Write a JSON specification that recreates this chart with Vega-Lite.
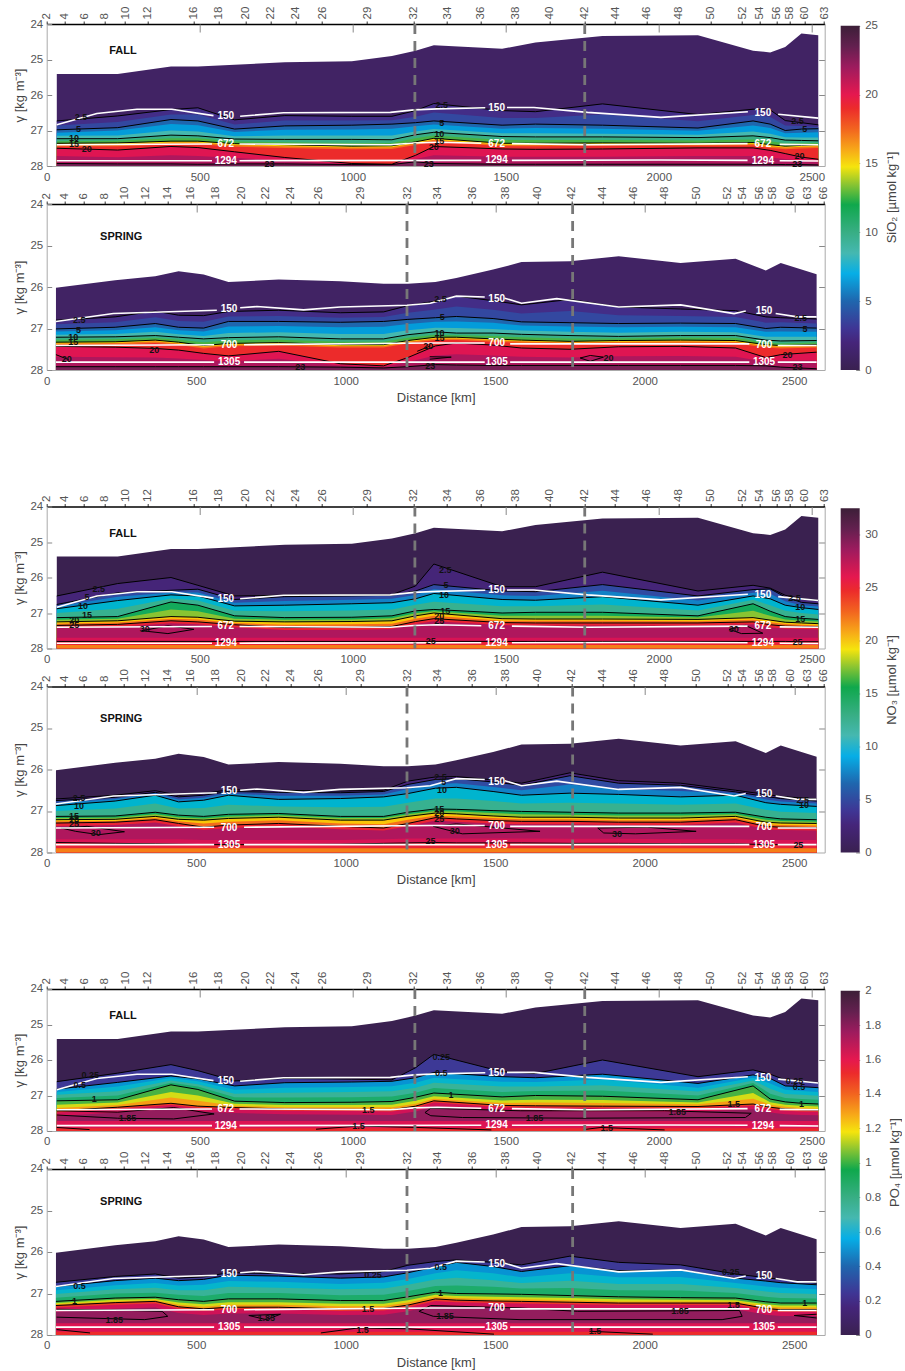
{"$schema":"https://vega.github.io/schema/vega-lite/v6.json","padding":{"left":13.7,"top":6,"right":0,"bottom":0},"background":"white","spacing":83.5,"resolve":{"scale":{"color":"independent"}},
"config":{"view":{"stroke":null},"axis":{"grid":false,"labelFont":"Liberation Sans","titleFont":"Liberation Sans","labelFontSize":11.5,"titleFontSize":13,"titleFontWeight":"normal","labelColor":"#555","titleColor":"#444","tickColor":"#888","domainColor":"#aaa","labelOverlap":false,"labelFlush":false}},
"params":[{"name":"stF","value":{"0":"2","58":"4","122":"6","188":"8","256":"10","329":"12","480":"16","562":"18","649":"20","731":"22","812":"24","900":"26","1047":"29","1200":"32","1308":"34","1419":"36","1532":"38","1644":"40","1758":"42","1857":"44","1960":"46","2064":"48","2169":"50","2272":"52","2329":"54","2384":"56","2428":"58","2477":"60","2540":"63"}},{"name":"stS","value":{"0":"2","59":"4","123":"6","193":"8","259":"10","329":"12","405":"14","480":"16","564":"18","653":"20","731":"22","815":"24","910":"26","1049":"29","1208":"32","1306":"34","1423":"36","1536":"38","1642":"40","1756":"42","1859":"44","1963":"46","2067":"48","2172":"50","2276":"52","2327":"54","2383":"56","2427":"58","2487":"60","2545":"63","2598":"66"}}],
"datasets":{
"sf":[
{"d":33,"10":25.41,"25":26.73,"37":26.86,"50":26.98,"65":27.06,"85":27.15,"100":27.23,"125":27.3,"150":27.36,"170":27.4,"185":27.45,"200":27.5,"215":27.72,"230":27.93},
{"d":232,"10":25.41,"25":26.59,"37":26.76,"50":26.92,"65":27.0,"85":27.14,"100":27.23,"125":27.29,"150":27.35,"170":27.39,"185":27.44,"200":27.55,"215":27.75,"230":27.94},
{"d":406,"10":25.2,"25":26.41,"37":26.55,"50":26.69,"65":26.82,"85":27.0,"100":27.13,"125":27.22,"150":27.3,"170":27.34,"185":27.39,"200":27.45,"215":27.7,"230":27.94},
{"d":494,"10":25.2,"25":26.36,"37":26.55,"50":26.73,"65":26.85,"85":27.03,"100":27.15,"125":27.22,"150":27.3,"170":27.34,"185":27.39,"200":27.48,"215":27.72,"230":27.95},
{"d":614,"10":25.15,"25":26.7,"37":26.83,"50":26.96,"65":27.04,"85":27.16,"100":27.24,"125":27.31,"150":27.37,"170":27.41,"185":27.46,"200":27.6,"215":27.77,"230":27.94},
{"d":778,"10":25.08,"25":26.58,"37":26.72,"50":26.87,"65":26.98,"85":27.14,"100":27.25,"125":27.33,"150":27.4,"170":27.44,"185":27.49,"200":27.76,"215":27.85,"230":27.94},
{"d":997,"10":25.05,"25":26.6,"37":26.72,"50":26.85,"65":26.97,"85":27.14,"100":27.25,"125":27.35,"150":27.44,"170":27.48,"185":27.53,"200":27.93,"215":27.95,"230":27.96},
{"d":1128,"10":24.9,"25":26.6,"37":26.71,"50":26.82,"65":26.95,"85":27.14,"100":27.26,"125":27.35,"150":27.43,"170":27.47,"185":27.52,"200":27.95,"215":27.96,"230":27.96},
{"d":1205,"10":24.75,"25":26.44,"37":26.61,"50":26.78,"65":26.88,"85":27.03,"100":27.12,"125":27.22,"150":27.32,"170":27.36,"185":27.41,"200":27.7,"215":27.8,"230":27.88},
{"d":1265,"10":24.6,"25":26.24,"37":26.49,"50":26.73,"65":26.83,"85":26.96,"100":27.05,"125":27.14,"150":27.22,"170":27.26,"185":27.31,"200":27.45,"215":27.7,"230":27.93},
{"d":1488,"10":24.7,"25":26.44,"37":26.65,"50":26.85,"65":26.95,"85":27.08,"100":27.17,"125":27.27,"150":27.36,"170":27.4,"185":27.44,"200":27.52,"215":27.74,"230":27.95},
{"d":1597,"10":24.52,"25":26.47,"37":26.65,"50":26.82,"65":26.93,"85":27.08,"100":27.18,"125":27.27,"150":27.36,"170":27.4,"185":27.44,"200":27.53,"215":27.74,"230":27.95},
{"d":1816,"10":24.34,"25":26.25,"37":26.55,"50":26.85,"65":26.95,"85":27.09,"100":27.18,"125":27.27,"150":27.35,"170":27.39,"185":27.43,"200":27.52,"215":27.74,"230":27.95},
{"d":2128,"10":24.32,"25":26.55,"37":26.74,"50":26.93,"65":27.01,"85":27.12,"100":27.2,"125":27.28,"150":27.36,"170":27.4,"185":27.43,"200":27.49,"215":27.72,"230":27.95},
{"d":2308,"10":24.75,"25":26.4,"37":26.56,"50":26.73,"65":26.86,"85":27.03,"100":27.15,"125":27.25,"150":27.34,"170":27.38,"185":27.42,"200":27.49,"215":27.72,"230":27.95},
{"d":2364,"10":24.8,"25":26.42,"37":26.62,"50":26.82,"65":26.93,"85":27.09,"100":27.2,"125":27.3,"150":27.4,"170":27.44,"185":27.49,"200":27.56,"215":27.76,"230":27.95},
{"d":2413,"10":24.65,"25":26.72,"37":26.86,"50":27.0,"65":27.08,"85":27.19,"100":27.27,"125":27.36,"150":27.44,"170":27.48,"185":27.53,"200":27.65,"215":27.8,"230":27.96},
{"d":2466,"10":24.27,"25":26.78,"37":26.87,"50":26.96,"65":27.06,"85":27.2,"100":27.28,"125":27.35,"150":27.42,"170":27.46,"185":27.51,"200":27.75,"215":27.85,"230":27.96},
{"d":2521,"10":24.32,"25":26.84,"37":26.9,"50":26.95,"65":27.05,"85":27.2,"100":27.29,"125":27.35,"150":27.4,"170":27.44,"185":27.49,"200":27.81,"215":27.89,"230":27.97}],
"ss":[
{"d":31,"10":26.02,"25":26.8,"37":26.9,"50":27.01,"65":27.07,"85":27.15,"100":27.21,"125":27.27,"150":27.33,"170":27.36,"185":27.4,"200":27.43,"215":27.68,"230":27.92},
{"d":229,"10":25.84,"25":26.72,"37":26.85,"50":26.97,"65":27.04,"85":27.13,"100":27.2,"125":27.26,"150":27.32,"170":27.35,"185":27.39,"200":27.45,"215":27.69,"230":27.92},
{"d":363,"10":25.74,"25":26.58,"37":26.73,"50":26.88,"65":26.97,"85":27.08,"100":27.17,"125":27.23,"150":27.28,"170":27.31,"185":27.35,"200":27.48,"215":27.7,"230":27.92},
{"d":441,"10":25.62,"25":26.68,"37":26.82,"50":26.97,"65":27.04,"85":27.14,"100":27.21,"125":27.27,"150":27.33,"170":27.36,"185":27.4,"200":27.52,"215":27.72,"230":27.92},
{"d":525,"10":25.7,"25":26.69,"37":26.84,"50":26.99,"65":27.07,"85":27.18,"100":27.25,"125":27.33,"150":27.41,"170":27.44,"185":27.48,"200":27.6,"215":27.76,"230":27.92},
{"d":608,"10":25.88,"25":26.59,"37":26.71,"50":26.83,"65":26.95,"85":27.11,"100":27.22,"125":27.29,"150":27.36,"170":27.39,"185":27.43,"200":27.66,"215":27.79,"230":27.92},
{"d":776,"10":25.82,"25":26.56,"37":26.7,"50":26.83,"65":26.94,"85":27.09,"100":27.2,"125":27.27,"150":27.34,"170":27.37,"185":27.41,"200":27.55,"215":27.73,"230":27.92},
{"d":982,"10":25.86,"25":26.62,"37":26.74,"50":26.85,"65":26.97,"85":27.13,"100":27.25,"125":27.32,"150":27.39,"170":27.42,"185":27.46,"200":27.85,"215":27.89,"230":27.93},
{"d":1127,"10":25.92,"25":26.6,"37":26.72,"50":26.83,"65":26.96,"85":27.13,"100":27.25,"125":27.32,"150":27.39,"170":27.42,"185":27.46,"200":27.9,"215":27.92,"230":27.95},
{"d":1208,"10":25.92,"25":26.45,"37":26.62,"50":26.78,"65":26.89,"85":27.04,"100":27.15,"125":27.22,"150":27.29,"170":27.32,"185":27.36,"200":27.7,"215":27.81,"230":27.92},
{"d":1300,"10":25.88,"25":26.34,"37":26.54,"50":26.74,"65":26.84,"85":26.98,"100":27.08,"125":27.15,"150":27.21,"170":27.24,"185":27.28,"200":27.42,"215":27.65,"230":27.87},
{"d":1370,"10":25.78,"25":26.22,"37":26.47,"50":26.71,"65":26.83,"85":26.99,"100":27.11,"125":27.16,"150":27.21,"170":27.24,"185":27.28,"200":27.35,"215":27.62,"230":27.88},
{"d":1493,"10":25.58,"25":26.33,"37":26.55,"50":26.76,"65":26.86,"85":27.01,"100":27.11,"125":27.18,"150":27.25,"170":27.28,"185":27.32,"200":27.4,"215":27.65,"230":27.89},
{"d":1588,"10":25.4,"25":26.43,"37":26.64,"50":26.84,"65":26.93,"85":27.05,"100":27.14,"125":27.21,"150":27.28,"170":27.31,"185":27.35,"200":27.47,"215":27.68,"230":27.89},
{"d":1750,"10":25.38,"25":26.3,"37":26.58,"50":26.86,"65":26.95,"85":27.08,"100":27.17,"125":27.24,"150":27.31,"170":27.34,"185":27.38,"200":27.5,"215":27.7,"230":27.89},
{"d":1913,"10":25.26,"25":26.48,"37":26.68,"50":26.88,"65":26.97,"85":27.1,"100":27.19,"125":27.24,"150":27.29,"170":27.32,"185":27.36,"200":27.44,"215":27.67,"230":27.89},
{"d":2120,"10":25.42,"25":26.53,"37":26.7,"50":26.87,"65":26.96,"85":27.08,"100":27.17,"125":27.22,"150":27.28,"170":27.31,"185":27.35,"200":27.43,"215":27.66,"230":27.89},
{"d":2304,"10":25.32,"25":26.57,"37":26.72,"50":26.88,"65":26.97,"85":27.09,"100":27.17,"125":27.23,"150":27.29,"170":27.32,"185":27.36,"200":27.47,"215":27.68,"230":27.89},
{"d":2405,"10":25.6,"25":26.72,"37":26.86,"50":27.0,"65":27.08,"85":27.2,"100":27.28,"125":27.34,"150":27.39,"170":27.42,"185":27.46,"200":27.7,"215":27.8,"230":27.9},
{"d":2455,"10":25.42,"25":26.74,"37":26.85,"50":26.97,"65":27.07,"85":27.2,"100":27.3,"125":27.36,"150":27.41,"170":27.44,"185":27.48,"200":27.63,"215":27.78,"230":27.93},
{"d":2575,"10":25.69,"25":26.77,"37":26.88,"50":26.99,"65":27.08,"85":27.2,"100":27.29,"125":27.34,"150":27.39,"170":27.42,"185":27.46,"200":27.57,"215":27.77,"230":27.97}],
"nf":[
{"d":33,"0":25.41,"25":26.52,"50":26.76,"75":26.82,"100":26.88,"125":27.0,"150":27.13,"175":27.19,"200":27.25,"225":27.3,"250":27.35,"280":27.42,"265":27.7,"251":27.8,"220":27.9},
{"d":232,"0":25.41,"25":26.17,"50":26.43,"75":26.54,"100":26.65,"125":26.88,"150":27.1,"175":27.16,"200":27.22,"225":27.27,"250":27.32,"280":27.39,"265":27.7,"251":27.8,"220":27.9},
{"d":406,"0":25.2,"25":26.0,"50":26.36,"75":26.42,"100":26.49,"125":26.59,"150":26.69,"175":26.9,"200":27.1,"225":27.16,"250":27.22,"280":27.29,"265":27.7,"251":27.8,"220":27.9},
{"d":494,"0":25.2,"25":26.22,"50":26.33,"75":26.42,"100":26.52,"125":26.65,"150":26.78,"175":26.95,"200":27.12,"225":27.18,"250":27.25,"280":27.32,"265":27.7,"251":27.8,"220":27.9},
{"d":614,"0":25.15,"25":26.52,"50":26.62,"75":26.71,"100":26.8,"125":26.94,"150":27.08,"175":27.16,"200":27.23,"225":27.28,"250":27.33,"280":27.4,"265":27.7,"251":27.8,"220":27.9},
{"d":778,"0":25.08,"25":26.5,"50":26.54,"75":26.66,"100":26.78,"125":26.95,"150":27.13,"175":27.19,"200":27.25,"225":27.33,"250":27.41,"280":27.48,"265":27.7,"251":27.8,"220":27.9},
{"d":997,"0":25.05,"25":26.49,"50":26.52,"75":26.63,"100":26.74,"125":26.93,"150":27.12,"175":27.18,"200":27.24,"225":27.32,"250":27.4,"280":27.47,"265":27.7,"251":27.8,"220":27.9},
{"d":1128,"0":24.9,"25":26.48,"50":26.5,"75":26.6,"100":26.71,"125":26.9,"150":27.08,"175":27.15,"200":27.22,"225":27.3,"250":27.38,"280":27.45,"265":27.7,"251":27.8,"220":27.9},
{"d":1205,"0":24.75,"25":26.24,"50":26.38,"75":26.49,"100":26.6,"125":26.77,"150":26.94,"175":27.01,"200":27.08,"225":27.16,"250":27.24,"280":27.31,"265":27.7,"251":27.8,"220":27.9},
{"d":1265,"0":24.6,"25":25.62,"50":26.2,"75":26.33,"100":26.45,"125":26.68,"150":26.9,"175":26.95,"200":27.0,"225":27.08,"250":27.16,"280":27.23,"265":27.7,"251":27.8,"220":27.9},
{"d":1488,"0":24.7,"25":26.26,"50":26.38,"75":26.5,"100":26.62,"125":26.81,"150":27.0,"175":27.08,"200":27.16,"225":27.22,"250":27.27,"280":27.34,"265":27.7,"251":27.8,"220":27.9},
{"d":1597,"0":24.52,"25":26.26,"50":26.4,"75":26.52,"100":26.64,"125":26.81,"150":26.98,"175":27.08,"200":27.17,"225":27.22,"250":27.28,"280":27.35,"265":27.7,"251":27.8,"220":27.9},
{"d":1816,"0":24.34,"25":25.85,"50":26.2,"75":26.37,"100":26.54,"125":26.76,"150":26.98,"175":27.08,"200":27.17,"225":27.22,"250":27.28,"280":27.35,"265":27.7,"251":27.8,"220":27.9},
{"d":2128,"0":24.32,"25":26.38,"50":26.52,"75":26.65,"100":26.78,"125":26.93,"150":27.08,"175":27.13,"200":27.18,"225":27.23,"250":27.28,"280":27.35,"265":27.7,"251":27.8,"220":27.9},
{"d":2308,"0":24.75,"25":26.22,"50":26.34,"75":26.43,"100":26.52,"125":26.63,"150":26.74,"175":26.94,"200":27.13,"225":27.19,"250":27.25,"280":27.32,"265":27.7,"251":27.8,"220":27.9},
{"d":2364,"0":24.8,"25":26.3,"50":26.32,"75":26.46,"100":26.6,"125":26.78,"150":26.95,"175":27.08,"200":27.2,"225":27.26,"250":27.33,"280":27.4,"265":27.7,"251":27.8,"220":27.9},
{"d":2413,"0":24.65,"25":26.5,"50":26.55,"75":26.67,"100":26.78,"125":26.94,"150":27.1,"175":27.18,"200":27.26,"225":27.31,"250":27.37,"280":27.44,"265":27.7,"251":27.8,"220":27.9},
{"d":2466,"0":24.27,"25":26.6,"50":26.7,"75":26.78,"100":26.85,"125":27.0,"150":27.15,"175":27.22,"200":27.28,"225":27.33,"250":27.38,"280":27.45,"265":27.7,"251":27.81,"220":27.9},
{"d":2521,"0":24.32,"25":26.65,"50":26.74,"75":26.82,"100":26.9,"125":27.04,"150":27.18,"175":27.24,"200":27.3,"225":27.35,"250":27.39,"280":27.46,"265":27.7,"251":27.81,"220":27.9}],
"ns":[
{"d":31,"0":26.02,"25":26.71,"50":26.75,"75":26.81,"100":26.87,"125":27.0,"150":27.13,"175":27.17,"200":27.21,"225":27.25,"250":27.29,"280":27.36,"265":27.68,"251":27.76,"220":27.9},
{"d":229,"0":25.84,"25":26.62,"50":26.67,"75":26.71,"100":26.76,"125":26.94,"150":27.12,"175":27.16,"200":27.2,"225":27.24,"250":27.27,"280":27.34,"265":27.68,"251":27.78,"220":27.9},
{"d":363,"0":25.74,"25":26.51,"50":26.55,"75":26.58,"100":26.62,"125":26.82,"150":27.03,"175":27.08,"200":27.13,"225":27.17,"250":27.21,"280":27.28,"265":27.68,"251":27.79,"220":27.9},
{"d":441,"0":25.62,"25":26.62,"50":26.66,"75":26.72,"100":26.78,"125":26.94,"150":27.1,"175":27.15,"200":27.2,"225":27.25,"250":27.3,"280":27.37,"265":27.68,"251":27.8,"220":27.9},
{"d":525,"0":25.7,"25":26.58,"50":26.62,"75":26.68,"100":26.74,"125":26.93,"150":27.13,"175":27.18,"200":27.22,"225":27.3,"250":27.39,"280":27.45,"265":27.7,"251":27.81,"220":27.9},
{"d":608,"0":25.88,"25":26.49,"50":26.53,"75":26.58,"100":26.62,"125":26.85,"150":27.08,"175":27.13,"200":27.18,"225":27.26,"250":27.34,"280":27.41,"265":27.7,"251":27.81,"220":27.9},
{"d":776,"0":25.82,"25":26.5,"50":26.55,"75":26.63,"100":26.72,"125":26.89,"150":27.06,"175":27.1,"200":27.15,"225":27.22,"250":27.3,"280":27.37,"265":27.7,"251":27.81,"220":27.9},
{"d":982,"0":25.86,"25":26.52,"50":26.56,"75":26.63,"100":26.7,"125":26.91,"150":27.13,"175":27.17,"200":27.22,"225":27.3,"250":27.37,"280":27.44,"265":27.7,"251":27.8,"220":27.9},
{"d":1127,"0":25.92,"25":26.5,"50":26.53,"75":26.6,"100":26.66,"125":26.9,"150":27.13,"175":27.17,"200":27.22,"225":27.32,"250":27.41,"280":27.47,"265":27.68,"251":27.78,"220":27.9},
{"d":1208,"0":25.92,"25":26.28,"50":26.36,"75":26.47,"100":26.58,"125":26.8,"150":27.03,"175":27.08,"200":27.13,"225":27.21,"250":27.3,"280":27.37,"265":27.66,"251":27.77,"220":27.9},
{"d":1300,"0":25.88,"25":26.18,"50":26.24,"75":26.35,"100":26.45,"125":26.7,"150":26.95,"175":27.0,"200":27.05,"225":27.11,"250":27.16,"280":27.23,"265":27.66,"251":27.76,"220":27.9},
{"d":1370,"0":25.78,"25":26.17,"50":26.22,"75":26.33,"100":26.43,"125":26.7,"150":26.96,"175":27.01,"200":27.07,"225":27.13,"250":27.19,"280":27.26,"265":27.66,"251":27.77,"220":27.9},
{"d":1493,"0":25.58,"25":26.25,"50":26.3,"75":26.42,"100":26.53,"125":26.76,"150":26.99,"175":27.05,"200":27.12,"225":27.17,"250":27.23,"280":27.3,"265":27.66,"251":27.77,"220":27.9},
{"d":1588,"0":25.4,"25":26.33,"50":26.38,"75":26.5,"100":26.62,"125":26.82,"150":27.01,"175":27.08,"200":27.15,"225":27.2,"250":27.25,"280":27.32,"265":27.66,"251":27.77,"220":27.9},
{"d":1750,"0":25.38,"25":26.08,"50":26.15,"75":26.36,"100":26.57,"125":26.8,"150":27.03,"175":27.09,"200":27.15,"225":27.2,"250":27.25,"280":27.32,"265":27.67,"251":27.78,"220":27.9},
{"d":1913,"0":25.26,"25":26.27,"50":26.33,"75":26.47,"100":26.6,"125":26.82,"150":27.05,"175":27.11,"200":27.17,"225":27.22,"250":27.27,"280":27.34,"265":27.67,"251":27.78,"220":27.9},
{"d":2120,"0":25.42,"25":26.33,"50":26.38,"75":26.52,"100":26.66,"125":26.85,"150":27.05,"175":27.11,"200":27.17,"225":27.22,"250":27.27,"280":27.34,"265":27.68,"251":27.79,"220":27.9},
{"d":2304,"0":25.32,"25":26.5,"50":26.54,"75":26.58,"100":26.62,"125":26.82,"150":27.03,"175":27.08,"200":27.13,"225":27.17,"250":27.21,"280":27.28,"265":27.68,"251":27.79,"220":27.9},
{"d":2405,"0":25.6,"25":26.6,"50":26.65,"75":26.72,"100":26.8,"125":26.97,"150":27.15,"175":27.21,"200":27.27,"225":27.32,"250":27.37,"280":27.44,"265":27.7,"251":27.81,"220":27.9},
{"d":2455,"0":25.42,"25":26.65,"50":26.7,"75":26.77,"100":26.84,"125":27.02,"150":27.19,"175":27.24,"200":27.29,"225":27.34,"250":27.39,"280":27.46,"265":27.7,"251":27.81,"220":27.9},
{"d":2575,"0":25.69,"25":26.71,"50":26.76,"75":26.82,"100":26.89,"125":27.05,"150":27.21,"175":27.26,"200":27.3,"225":27.35,"250":27.4,"280":27.47,"265":27.7,"251":27.81,"220":27.9}],
"pf":[
{"d":33,"0":25.41,"25":26.61,"50":26.82,"62":26.9,"75":26.98,"88":27.07,"100":27.15,"115":27.26,"130":27.35,"150":27.43,"165":27.48,"178":27.58,"162":27.72,"152":27.92},
{"d":232,"0":25.41,"25":26.37,"50":26.63,"62":26.75,"75":26.88,"88":27.0,"100":27.12,"115":27.2,"130":27.27,"150":27.33,"165":27.38,"178":27.48,"162":27.72,"152":27.92},
{"d":406,"0":25.2,"25":26.13,"50":26.45,"62":26.51,"75":26.58,"88":26.64,"100":26.7,"115":26.9,"130":27.06,"150":27.22,"165":27.27,"178":27.37,"162":27.72,"152":27.92},
{"d":494,"0":25.2,"25":26.3,"50":26.53,"62":26.6,"75":26.68,"88":26.75,"100":26.83,"115":27.0,"130":27.15,"150":27.3,"165":27.35,"178":27.45,"162":27.72,"152":27.92},
{"d":614,"0":25.15,"25":26.59,"50":26.73,"62":26.84,"75":26.95,"88":27.05,"100":27.16,"115":27.23,"130":27.29,"150":27.34,"165":27.39,"178":27.49,"162":27.72,"152":27.92},
{"d":778,"0":25.08,"25":26.52,"50":26.64,"62":26.78,"75":26.92,"88":27.06,"100":27.2,"115":27.27,"130":27.33,"150":27.38,"165":27.43,"178":27.53,"162":27.72,"152":27.92},
{"d":997,"0":25.05,"25":26.54,"50":26.62,"62":26.76,"75":26.9,"88":27.05,"100":27.19,"115":27.27,"130":27.33,"150":27.39,"165":27.44,"178":27.54,"162":27.72,"152":27.92},
{"d":1128,"0":24.9,"25":26.56,"50":26.6,"62":26.74,"75":26.88,"88":27.03,"100":27.17,"115":27.26,"130":27.33,"150":27.4,"165":27.45,"178":27.55,"162":27.72,"152":27.92},
{"d":1205,"0":24.75,"25":26.22,"50":26.5,"62":26.64,"75":26.78,"88":26.92,"100":27.05,"115":27.15,"130":27.23,"150":27.3,"165":27.35,"178":27.45,"162":27.72,"152":27.92},
{"d":1265,"0":24.6,"25":25.84,"50":26.35,"62":26.5,"75":26.64,"88":26.79,"100":26.93,"115":27.02,"130":27.09,"150":27.15,"165":27.2,"178":27.3,"162":27.72,"152":27.92},
{"d":1488,"0":24.7,"25":26.33,"50":26.47,"62":26.61,"75":26.75,"88":26.9,"100":27.04,"115":27.14,"130":27.21,"150":27.28,"165":27.33,"178":27.43,"162":27.72,"152":27.92},
{"d":1597,"0":24.52,"25":26.38,"50":26.5,"62":26.62,"75":26.75,"88":26.87,"100":27.0,"115":27.12,"130":27.2,"150":27.29,"165":27.34,"178":27.44,"162":27.72,"152":27.92},
{"d":1816,"0":24.34,"25":26.0,"50":26.4,"62":26.55,"75":26.71,"88":26.86,"100":27.02,"115":27.13,"130":27.21,"150":27.3,"165":27.35,"178":27.45,"162":27.72,"152":27.92},
{"d":2128,"0":24.32,"25":26.47,"50":26.66,"62":26.78,"75":26.89,"88":27.0,"100":27.12,"115":27.2,"130":27.25,"150":27.31,"165":27.36,"178":27.46,"162":27.72,"152":27.92},
{"d":2308,"0":24.75,"25":26.28,"50":26.42,"62":26.5,"75":26.58,"88":26.65,"100":26.73,"115":26.93,"130":27.09,"150":27.24,"165":27.29,"178":27.39,"162":27.72,"152":27.92},
{"d":2364,"0":24.8,"25":26.4,"50":26.52,"62":26.66,"75":26.81,"88":26.95,"100":27.1,"115":27.19,"130":27.26,"150":27.33,"165":27.38,"178":27.48,"162":27.72,"152":27.92},
{"d":2413,"0":24.65,"25":26.56,"50":26.73,"62":26.84,"75":26.96,"88":27.07,"100":27.18,"115":27.26,"130":27.32,"150":27.38,"165":27.43,"178":27.53,"162":27.72,"152":27.92},
{"d":2466,"0":24.27,"25":26.6,"50":26.75,"62":26.87,"75":26.98,"88":27.1,"100":27.22,"115":27.29,"130":27.35,"150":27.4,"165":27.45,"178":27.55,"162":27.72,"152":27.92},
{"d":2521,"0":24.32,"25":26.64,"50":26.78,"62":26.9,"75":27.01,"88":27.12,"100":27.24,"115":27.31,"130":27.37,"150":27.41,"165":27.46,"178":27.56,"162":27.72,"152":27.92}],
"ps":[
{"d":31,"0":26.02,"25":26.73,"50":26.83,"62":26.92,"75":27.01,"88":27.1,"100":27.19,"115":27.23,"130":27.26,"150":27.29,"165":27.34,"178":27.44,"162":27.72,"152":27.92},
{"d":229,"0":25.84,"25":26.59,"50":26.69,"62":26.8,"75":26.9,"88":27.0,"100":27.11,"115":27.15,"130":27.19,"150":27.22,"165":27.27,"178":27.37,"162":27.72,"152":27.92},
{"d":363,"0":25.74,"25":26.53,"50":26.63,"62":26.75,"75":26.86,"88":26.98,"100":27.09,"115":27.13,"130":27.16,"150":27.19,"165":27.24,"178":27.34,"162":27.72,"152":27.92},
{"d":441,"0":25.62,"25":26.63,"50":26.69,"62":26.81,"75":26.92,"88":27.03,"100":27.15,"115":27.22,"130":27.27,"150":27.32,"165":27.37,"178":27.47,"162":27.72,"152":27.92},
{"d":525,"0":25.7,"25":26.6,"50":26.66,"62":26.79,"75":26.92,"88":27.06,"100":27.19,"115":27.26,"130":27.32,"150":27.37,"165":27.42,"178":27.52,"162":27.72,"152":27.92},
{"d":608,"0":25.88,"25":26.5,"50":26.56,"62":26.7,"75":26.84,"88":26.99,"100":27.13,"115":27.21,"130":27.27,"150":27.33,"165":27.38,"178":27.48,"162":27.72,"152":27.92},
{"d":776,"0":25.82,"25":26.52,"50":26.58,"62":26.72,"75":26.86,"88":26.99,"100":27.13,"115":27.21,"130":27.27,"150":27.33,"165":27.38,"178":27.48,"162":27.72,"152":27.92},
{"d":982,"0":25.86,"25":26.53,"50":26.63,"62":26.77,"75":26.9,"88":27.04,"100":27.17,"115":27.25,"130":27.31,"150":27.37,"165":27.42,"178":27.52,"162":27.72,"152":27.92},
{"d":1127,"0":25.92,"25":26.47,"50":26.6,"62":26.74,"75":26.88,"88":27.03,"100":27.17,"115":27.25,"130":27.3,"150":27.36,"165":27.41,"178":27.51,"162":27.72,"152":27.92},
{"d":1208,"0":25.92,"25":26.32,"50":26.5,"62":26.65,"75":26.79,"88":26.94,"100":27.08,"115":27.16,"130":27.22,"150":27.28,"165":27.33,"178":27.43,"162":27.72,"152":27.92},
{"d":1300,"0":25.88,"25":26.23,"50":26.36,"62":26.51,"75":26.66,"88":26.82,"100":26.97,"115":27.03,"130":27.08,"150":27.13,"165":27.18,"178":27.28,"162":27.72,"152":27.92},
{"d":1370,"0":25.78,"25":26.19,"50":26.25,"62":26.44,"75":26.62,"88":26.81,"100":27.0,"115":27.06,"130":27.11,"150":27.16,"165":27.21,"178":27.31,"162":27.72,"152":27.92},
{"d":1493,"0":25.58,"25":26.25,"50":26.35,"62":26.51,"75":26.68,"88":26.84,"100":27.01,"115":27.08,"130":27.13,"150":27.18,"165":27.23,"178":27.33,"162":27.72,"152":27.92},
{"d":1588,"0":25.4,"25":26.31,"50":26.47,"62":26.61,"75":26.75,"88":26.88,"100":27.02,"115":27.09,"130":27.14,"150":27.19,"165":27.24,"178":27.34,"162":27.72,"152":27.92},
{"d":1750,"0":25.38,"25":26.1,"50":26.33,"62":26.51,"75":26.69,"88":26.87,"100":27.05,"115":27.11,"130":27.16,"150":27.21,"165":27.26,"178":27.36,"162":27.72,"152":27.92},
{"d":1913,"0":25.26,"25":26.25,"50":26.45,"62":26.61,"75":26.77,"88":26.92,"100":27.08,"115":27.14,"130":27.19,"150":27.23,"165":27.28,"178":27.38,"162":27.72,"152":27.92},
{"d":2120,"0":25.42,"25":26.31,"50":26.43,"62":26.6,"75":26.77,"88":26.93,"100":27.1,"115":27.15,"130":27.19,"150":27.23,"165":27.28,"178":27.38,"162":27.72,"152":27.92},
{"d":2304,"0":25.32,"25":26.53,"50":26.63,"62":26.75,"75":26.87,"88":26.99,"100":27.11,"115":27.16,"130":27.2,"150":27.23,"165":27.28,"178":27.38,"162":27.72,"152":27.92},
{"d":2405,"0":25.6,"25":26.62,"50":26.7,"62":26.83,"75":26.95,"88":27.08,"100":27.2,"115":27.26,"130":27.31,"150":27.36,"165":27.41,"178":27.51,"162":27.72,"152":27.92},
{"d":2455,"0":25.42,"25":26.66,"50":26.74,"62":26.86,"75":26.99,"88":27.11,"100":27.23,"115":27.29,"130":27.34,"150":27.39,"165":27.44,"178":27.54,"162":27.72,"152":27.92},
{"d":2575,"0":25.69,"25":26.75,"50":26.79,"62":26.9,"75":27.01,"88":27.12,"100":27.23,"115":27.29,"130":27.34,"150":27.39,"165":27.44,"178":27.54,"162":27.72,"152":27.92}],
"wf":[{"c":1,"d":33,"y":26.84},{"c":1,"d":164,"y":26.52},{"c":1,"d":295,"y":26.4},{"c":1,"d":409,"y":26.4},{"c":1,"d":545,"y":26.58},{"c":2,"d":632,"y":26.6},{"c":2,"d":774,"y":26.5},{"c":2,"d":1123,"y":26.49},{"c":2,"d":1200,"y":26.42},{"c":2,"d":1276,"y":26.39},{"c":2,"d":1433,"y":26.36},{"c":3,"d":1504,"y":26.35},{"c":3,"d":1592,"y":26.35},{"c":3,"d":1767,"y":26.49},{"c":3,"d":2007,"y":26.63},{"c":3,"d":2291,"y":26.47},{"c":4,"d":2390,"y":26.54},{"c":4,"d":2521,"y":26.65},{"c":5,"d":33,"y":27.4},{"c":5,"d":540,"y":27.38},{"c":6,"d":630,"y":27.38},{"c":6,"d":1123,"y":27.4},{"c":6,"d":1200,"y":27.35},{"c":6,"d":1276,"y":27.33},{"c":6,"d":1420,"y":27.36},{"c":7,"d":1520,"y":27.37},{"c":7,"d":1767,"y":27.4},{"c":7,"d":2290,"y":27.37},{"c":8,"d":2395,"y":27.39},{"c":8,"d":2521,"y":27.4},{"c":9,"d":33,"y":27.85},{"c":9,"d":540,"y":27.85},{"c":10,"d":630,"y":27.85},{"c":10,"d":1420,"y":27.84},{"c":11,"d":1520,"y":27.84},{"c":11,"d":2000,"y":27.83},{"c":11,"d":2290,"y":27.84},{"c":12,"d":2395,"y":27.85},{"c":12,"d":2521,"y":27.86}],
"ws":[{"c":1,"d":31,"y":26.83},{"c":1,"d":223,"y":26.64},{"c":1,"d":569,"y":26.56},{"c":2,"d":647,"y":26.5},{"c":2,"d":703,"y":26.47},{"c":2,"d":859,"y":26.55},{"c":2,"d":982,"y":26.48},{"c":2,"d":1205,"y":26.44},{"c":2,"d":1283,"y":26.39},{"c":2,"d":1370,"y":26.22},{"c":2,"d":1465,"y":26.24},{"c":3,"d":1532,"y":26.27},{"c":3,"d":1588,"y":26.39},{"c":3,"d":1706,"y":26.28},{"c":3,"d":1913,"y":26.48},{"c":3,"d":2120,"y":26.43},{"c":3,"d":2299,"y":26.64},{"c":3,"d":2338,"y":26.58},{"c":4,"d":2438,"y":26.64},{"c":4,"d":2511,"y":26.72},{"c":4,"d":2575,"y":26.72},{"c":5,"d":31,"y":27.41},{"c":5,"d":560,"y":27.39},{"c":6,"d":660,"y":27.39},{"c":6,"d":1283,"y":27.35},{"c":6,"d":1465,"y":27.35},{"c":7,"d":1550,"y":27.37},{"c":7,"d":2350,"y":27.37},{"c":8,"d":2445,"y":27.41},{"c":8,"d":2575,"y":27.41},{"c":9,"d":31,"y":27.81},{"c":9,"d":560,"y":27.81},{"c":10,"d":660,"y":27.81},{"c":10,"d":1465,"y":27.81},{"c":11,"d":1550,"y":27.81},{"c":11,"d":2350,"y":27.81},{"c":12,"d":2445,"y":27.81},{"c":12,"d":2575,"y":27.81}],
"wlf":[{"d":585,"y":26.6,"t":"150"},{"d":1470,"y":26.36,"t":"150"},{"d":2340,"y":26.5,"t":"150"},{"d":585,"y":27.38,"t":"672"},{"d":1470,"y":27.37,"t":"672"},{"d":2340,"y":27.38,"t":"672"},{"d":585,"y":27.85,"t":"1294"},{"d":1470,"y":27.84,"t":"1294"},{"d":2340,"y":27.85,"t":"1294"}],
"wls":[{"d":610,"y":26.53,"t":"150"},{"d":1505,"y":26.29,"t":"150"},{"d":2399,"y":26.59,"t":"150"},{"d":610,"y":27.4,"t":"700"},{"d":1505,"y":27.36,"t":"700"},{"d":2399,"y":27.39,"t":"700"},{"d":610,"y":27.81,"t":"1305"},{"d":1505,"y":27.81,"t":"1305"},{"d":2399,"y":27.81,"t":"1305"}],
"L":[{"p":"ss","c":1,"o":1,"d":1239,"y":27.55},{"p":"ss","c":1,"o":2,"d":1283,"y":27.42},{"p":"ss","c":2,"o":1,"d":1281,"y":27.68},{"p":"ss","c":2,"o":2,"d":1353,"y":27.69},{"p":"ss","c":2,"o":3,"d":1281,"y":27.74},{"p":"ss","c":3,"o":1,"d":1784,"y":27.71},{"p":"ss","c":3,"o":2,"d":1818,"y":27.65},{"p":"ss","c":3,"o":3,"d":1862,"y":27.69},{"p":"ss","c":3,"o":4,"d":1818,"y":27.79},{"p":"ss","c":3,"o":5,"d":1784,"y":27.71},{"p":"ss","c":4,"o":1,"d":31,"y":27.63},{"p":"ss","c":4,"o":2,"d":73,"y":27.75},
{"p":"nf","c":1,"o":1,"d":311,"y":27.5},{"p":"nf","c":1,"o":2,"d":396,"y":27.36},{"p":"nf","c":1,"o":3,"d":481,"y":27.46},{"p":"nf","c":1,"o":4,"d":396,"y":27.58},{"p":"nf","c":1,"o":5,"d":311,"y":27.5},{"p":"nf","c":2,"o":1,"d":2230,"y":27.46},{"p":"nf","c":2,"o":2,"d":2283,"y":27.35},{"p":"nf","c":2,"o":3,"d":2340,"y":27.57},{"p":"nf","c":2,"o":4,"d":2270,"y":27.58},{"p":"nf","c":2,"o":5,"d":2230,"y":27.46},
{"p":"ns","c":1,"o":1,"d":48,"y":27.41},{"p":"ns","c":1,"o":2,"d":135,"y":27.37},{"p":"ns","c":1,"o":3,"d":260,"y":27.5},{"p":"ns","c":1,"o":4,"d":174,"y":27.57},{"p":"ns","c":1,"o":5,"d":97,"y":27.49},{"p":"ns","c":1,"o":6,"d":48,"y":27.41},{"p":"ns","c":2,"o":1,"d":1293,"y":27.37},{"p":"ns","c":2,"o":2,"d":1370,"y":27.31},{"p":"ns","c":2,"o":3,"d":1650,"y":27.49},{"p":"ns","c":2,"o":4,"d":1390,"y":27.55},{"p":"ns","c":2,"o":5,"d":1293,"y":27.37},{"p":"ns","c":3,"o":1,"d":1843,"y":27.41},{"p":"ns","c":3,"o":2,"d":2008,"y":27.39},{"p":"ns","c":3,"o":3,"d":2172,"y":27.49},{"p":"ns","c":3,"o":4,"d":1969,"y":27.55},{"p":"ns","c":3,"o":5,"d":1863,"y":27.53},{"p":"ns","c":3,"o":6,"d":1843,"y":27.41},
{"p":"pf","c":1,"o":1,"d":33,"y":27.43},{"p":"pf","c":1,"o":2,"d":232,"y":27.47},{"p":"pf","c":1,"o":3,"d":415,"y":27.34},{"p":"pf","c":1,"o":4,"d":547,"y":27.52},{"p":"pf","c":1,"o":5,"d":415,"y":27.66},{"p":"pf","c":1,"o":6,"d":232,"y":27.64},{"p":"pf","c":1,"o":7,"d":33,"y":27.55},{"p":"pf","c":2,"o":1,"d":1236,"y":27.48},{"p":"pf","c":2,"o":2,"d":1255,"y":27.36},{"p":"pf","c":2,"o":3,"d":1547,"y":27.43},{"p":"pf","c":2,"o":4,"d":2019,"y":27.43},{"p":"pf","c":2,"o":5,"d":2302,"y":27.5},{"p":"pf","c":2,"o":6,"d":2283,"y":27.62},{"p":"pf","c":2,"o":7,"d":1736,"y":27.64},{"p":"pf","c":2,"o":8,"d":1358,"y":27.62},{"p":"pf","c":2,"o":9,"d":1255,"y":27.57},{"p":"pf","c":2,"o":10,"d":1236,"y":27.48},{"p":"pf","c":3,"o":1,"d":33,"y":27.9},{"p":"pf","c":3,"o":2,"d":140,"y":27.96},{"p":"pf","c":4,"o":1,"d":880,"y":27.95},{"p":"pf","c":4,"o":2,"d":1019,"y":27.86},{"p":"pf","c":4,"o":3,"d":1208,"y":27.9},{"p":"pf","c":4,"o":4,"d":1453,"y":27.97},{"p":"pf","c":5,"o":1,"d":1755,"y":27.96},{"p":"pf","c":5,"o":2,"d":1811,"y":27.9},{"p":"pf","c":5,"o":3,"d":2019,"y":27.97},
{"p":"ps","c":1,"o":1,"d":33,"y":27.38},{"p":"ps","c":1,"o":2,"d":232,"y":27.4},{"p":"ps","c":1,"o":3,"d":386,"y":27.43},{"p":"ps","c":1,"o":4,"d":405,"y":27.55},{"p":"ps","c":1,"o":5,"d":328,"y":27.63},{"p":"ps","c":1,"o":6,"d":33,"y":27.57},{"p":"ps","c":2,"o":1,"d":1245,"y":27.43},{"p":"ps","c":2,"o":2,"d":1284,"y":27.29},{"p":"ps","c":2,"o":3,"d":1583,"y":27.35},{"p":"ps","c":2,"o":4,"d":1776,"y":27.43},{"p":"ps","c":2,"o":5,"d":2317,"y":27.41},{"p":"ps","c":2,"o":6,"d":2326,"y":27.55},{"p":"ps","c":2,"o":7,"d":2259,"y":27.63},{"p":"ps","c":2,"o":8,"d":1583,"y":27.63},{"p":"ps","c":2,"o":9,"d":1293,"y":27.55},{"p":"ps","c":2,"o":10,"d":1245,"y":27.43},{"p":"ps","c":3,"o":1,"d":676,"y":27.53},{"p":"ps","c":3,"o":2,"d":782,"y":27.5},{"p":"ps","c":3,"o":3,"d":734,"y":27.63},{"p":"ps","c":3,"o":4,"d":676,"y":27.53},{"p":"ps","c":4,"o":1,"d":2575,"y":27.5},{"p":"ps","c":4,"o":2,"d":2500,"y":27.53},{"p":"ps","c":4,"o":3,"d":2575,"y":27.59},{"p":"ps","c":6,"o":1,"d":33,"y":27.87},{"p":"ps","c":6,"o":2,"d":145,"y":27.95},{"p":"ps","c":7,"o":1,"d":917,"y":27.95},{"p":"ps","c":7,"o":2,"d":1042,"y":27.83},{"p":"ps","c":7,"o":3,"d":1206,"y":27.85},{"p":"ps","c":7,"o":4,"d":1496,"y":27.98},{"p":"ps","c":8,"o":1,"d":1815,"y":27.91},{"p":"ps","c":8,"o":2,"d":2027,"y":27.98}],
"T":[{"p":"sf","d":112,"y":26.63,"t":"2.5"},{"p":"sf","d":104,"y":26.96,"t":"5"},{"p":"sf","d":89,"y":27.22,"t":"10"},{"p":"sf","d":89,"y":27.37,"t":"15"},{"p":"sf","d":131,"y":27.53,"t":"20"},{"p":"sf","d":728,"y":27.95,"t":"23"},{"p":"sf","d":1265,"y":27.47,"t":"20"},{"p":"sf","d":1283,"y":27.1,"t":"10"},{"p":"sf","d":1283,"y":27.3,"t":"15"},{"p":"sf","d":1291,"y":26.27,"t":"2.5"},{"p":"sf","d":1291,"y":26.78,"t":"5"},{"p":"sf","d":1248,"y":27.95,"t":"23"},{"p":"sf","d":2453,"y":26.72,"t":"2.5"},{"p":"sf","d":2477,"y":26.97,"t":"5"},{"p":"sf","d":2460,"y":27.73,"t":"20"},{"p":"sf","d":2452,"y":27.95,"t":"23"},
{"p":"ss","d":109,"y":26.79,"t":"2.5"},{"p":"ss","d":106,"y":27.03,"t":"5"},{"p":"ss","d":89,"y":27.21,"t":"10"},{"p":"ss","d":89,"y":27.33,"t":"15"},{"p":"ss","d":360,"y":27.53,"t":"20"},{"p":"ss","d":67,"y":27.73,"t":"20"},{"p":"ss","d":848,"y":27.93,"t":"23"},{"p":"ss","d":1317,"y":26.3,"t":"2.5"},{"p":"ss","d":1323,"y":26.73,"t":"5"},{"p":"ss","d":1314,"y":27.11,"t":"10"},{"p":"ss","d":1314,"y":27.24,"t":"15"},{"p":"ss","d":1276,"y":27.43,"t":"20"},{"p":"ss","d":1283,"y":27.91,"t":"23"},{"p":"ss","d":1879,"y":27.71,"t":"20"},{"p":"ss","d":2522,"y":26.75,"t":"2.5"},{"p":"ss","d":2536,"y":27.0,"t":"5"},{"p":"ss","d":2478,"y":27.63,"t":"20"},{"p":"ss","d":2511,"y":27.93,"t":"23"},
{"p":"nf","d":170,"y":26.32,"t":"2.5"},{"p":"nf","d":132,"y":26.54,"t":"5"},{"p":"nf","d":119,"y":26.8,"t":"10"},{"p":"nf","d":132,"y":27.07,"t":"15"},{"p":"nf","d":90,"y":27.2,"t":"20"},{"p":"nf","d":90,"y":27.33,"t":"25"},{"p":"nf","d":320,"y":27.46,"t":"30"},{"p":"nf","d":1302,"y":25.8,"t":"2.5"},{"p":"nf","d":1305,"y":26.2,"t":"5"},{"p":"nf","d":1298,"y":26.49,"t":"10"},{"p":"nf","d":1302,"y":26.93,"t":"15"},{"p":"nf","d":1283,"y":27.08,"t":"20"},{"p":"nf","d":1283,"y":27.23,"t":"25"},{"p":"nf","d":1255,"y":27.79,"t":"25"},{"p":"nf","d":2443,"y":26.57,"t":"2.5"},{"p":"nf","d":2462,"y":26.82,"t":"10"},{"p":"nf","d":2462,"y":27.18,"t":"15"},{"p":"nf","d":2245,"y":27.44,"t":"30"},{"p":"nf","d":2453,"y":27.81,"t":"25"},
{"p":"ns","d":108,"y":26.69,"t":"2.5"},{"p":"ns","d":108,"y":26.88,"t":"10"},{"p":"ns","d":91,"y":27.13,"t":"15"},{"p":"ns","d":91,"y":27.22,"t":"20"},{"p":"ns","d":91,"y":27.31,"t":"25"},{"p":"ns","d":164,"y":27.53,"t":"30"},{"p":"ns","d":1317,"y":26.18,"t":"2.5"},{"p":"ns","d":1328,"y":26.29,"t":"5"},{"p":"ns","d":1322,"y":26.49,"t":"10"},{"p":"ns","d":1313,"y":26.95,"t":"15"},{"p":"ns","d":1313,"y":27.06,"t":"20"},{"p":"ns","d":1313,"y":27.2,"t":"25"},{"p":"ns","d":1365,"y":27.47,"t":"30"},{"p":"ns","d":1284,"y":27.73,"t":"25"},{"p":"ns","d":1907,"y":27.55,"t":"30"},{"p":"ns","d":2529,"y":26.73,"t":"2.5"},{"p":"ns","d":2533,"y":26.85,"t":"10"},{"p":"ns","d":2514,"y":27.83,"t":"25"},
{"p":"pf","d":142,"y":26.43,"t":"0.25"},{"p":"pf","d":108,"y":26.7,"t":"0.5"},{"p":"pf","d":155,"y":27.1,"t":"1"},{"p":"pf","d":264,"y":27.64,"t":"1.85"},{"p":"pf","d":1051,"y":27.4,"t":"1.5"},{"p":"pf","d":1289,"y":25.92,"t":"0.25"},{"p":"pf","d":1289,"y":26.36,"t":"0.5"},{"p":"pf","d":1321,"y":26.98,"t":"1"},{"p":"pf","d":1594,"y":27.64,"t":"1.85"},{"p":"pf","d":2060,"y":27.46,"t":"1.85"},{"p":"pf","d":2245,"y":27.24,"t":"1.5"},{"p":"pf","d":1019,"y":27.87,"t":"1.5"},{"p":"pf","d":1830,"y":27.92,"t":"1.5"},{"p":"pf","d":2443,"y":26.58,"t":"0.25"},{"p":"pf","d":2458,"y":26.76,"t":"0.5"},{"p":"pf","d":2466,"y":27.24,"t":"1"},
{"p":"ps","d":110,"y":26.81,"t":"0.5"},{"p":"ps","d":93,"y":27.17,"t":"1"},{"p":"ps","d":226,"y":27.65,"t":"1.85"},{"p":"ps","d":734,"y":27.59,"t":"1.85"},{"p":"ps","d":1091,"y":26.56,"t":"0.25"},{"p":"ps","d":1075,"y":27.37,"t":"1.5"},{"p":"ps","d":1056,"y":27.87,"t":"1.5"},{"p":"ps","d":1318,"y":26.35,"t":"0.5"},{"p":"ps","d":1317,"y":27.0,"t":"1"},{"p":"ps","d":1332,"y":27.55,"t":"1.85"},{"p":"ps","d":2118,"y":27.43,"t":"1.85"},{"p":"ps","d":2297,"y":27.27,"t":"1.5"},{"p":"ps","d":2288,"y":26.49,"t":"0.25"},{"p":"ps","d":2535,"y":27.23,"t":"1"},{"p":"ps","d":1834,"y":27.91,"t":"1.5"}]
},
"vconcat":[
{"spacing":11,"resolve":{"scale":{"color":"independent"}},"hconcat":[{"bounds":"flush","spacing":38,"resolve":{"scale":{"color":"independent"}},"vconcat":[
{"width":778,"height":142,"resolve":{"axis":{"x":"independent","y":"independent"}},"layer":[
{"data":{"name":"sf"},"transform":[{"fold":["10","25","37","50","65","85","100","125","150","170","185","200","215","230"],"as":["k","g"]}],"mark":{"type":"area","orient":"vertical"},"encoding":{"x":{"field":"d","type":"quantitative","scale":{"domain":[0,2542],"nice":false,"zero":false},"axis":{"orient":"bottom","values":[0,500,1000,1500,2000,2500],"format":"d","title":null,"tickSize":0,"labelPadding":5}},"y":{"field":"g","type":"quantitative","scale":{"domain":[28,24],"nice":false,"zero":false},"axis":{"orient":"left","values":[24,25,26,27,28],"format":"d","title":"γ [kg m⁻³]","tickSize":-5,"labelPadding":9,"titlePadding":3}},"y2":{"datum":28},"color":{"field":"k","type":"quantitative","scale":{"domain":[0,20,30,50,70,85,100,120,135,148,160,172,185,198,220,235,250],"range":["#3a2150","#45257a","#3f3594","#1f66ae","#06aee6","#45b8b0","#38ae84","#0fa84c","#8cc531","#f5e40d","#f7a818","#f2641f","#ec2b2b","#e5184f","#9d1b5e","#63204f","#3c1f38"]},"legend":null},"detail":{"field":"k"}}},
{"data":{"name":"sf"},"transform":[{"fold":["25","50","100","150","200","230"],"as":["k","g"]}],"mark":{"type":"line","color":"black","strokeWidth":1},"encoding":{"x":{"field":"d","type":"quantitative","axis":{"orient":"top","values":[0,58,122,188,256,329,480,562,649,731,812,900,1047,1200,1308,1419,1532,1644,1758,1857,1960,2064,2169,2272,2329,2384,2428,2477,2540],"labelExpr":"stF[datum.value]","labelAngle":-90,"labelAlign":"left","labelBaseline":"middle","tickSize":3,"tickColor":"#333","domainColor":"#000","domainWidth":1.5,"labelPadding":2,"title":null}},"y":{"field":"g","type":"quantitative","axis":{"orient":"right","values":[25,26,27],"labels":false,"tickSize":-6,"title":null}},"detail":{"field":"k"}}},
{"data":{"name":"L"},"transform":[{"filter":"datum.p=='sf'"}],"mark":{"type":"line","color":"black","strokeWidth":1},"encoding":{"x":{"field":"d","type":"quantitative","axis":null},"y":{"field":"y","type":"quantitative","axis":null},"detail":{"field":"c"},"order":{"field":"o"}}},
{"data":{"name":"wf"},"mark":{"type":"line","color":"white","strokeWidth":1.6},"encoding":{"x":{"field":"d","type":"quantitative","axis":{"orient":"top","values":[500,1000,1500,2000,2500],"labels":false,"domain":false,"tickSize":-8,"title":null}},"y":{"field":"y","type":"quantitative","axis":null},"detail":{"field":"c"}}},
{"data":{"values":[{"d":1203},{"d":1758}]},"mark":{"type":"rule","color":"#777","strokeWidth":2.8,"strokeDash":[10,7]},"encoding":{"x":{"field":"d","type":"quantitative","axis":null},"y":{"datum":24,"type":"quantitative","axis":null},"y2":{"datum":28}}},
{"data":{"name":"T"},"transform":[{"filter":"datum.p=='sf'"}],"mark":{"type":"text","font":"Liberation Sans","fontWeight":"bold","fontSize":9,"color":"#111"},"encoding":{"x":{"field":"d","type":"quantitative","axis":null},"y":{"field":"y","type":"quantitative","axis":null},"text":{"field":"t","type":"nominal"}}},
{"data":{"name":"wlf"},"mark":{"type":"text","font":"Liberation Sans","fontWeight":"bold","fontSize":10,"color":"white"},"encoding":{"x":{"field":"d","type":"quantitative","axis":null},"y":{"field":"y","type":"quantitative","axis":null},"text":{"field":"t","type":"nominal"}}},
{"data":{"values":[{"d":249,"y":24.77,"t":"FALL"}]},"mark":{"type":"text","font":"Liberation Sans","fontWeight":"bold","fontSize":11,"color":"#111"},"encoding":{"x":{"field":"d","type":"quantitative","axis":null},"y":{"field":"y","type":"quantitative","axis":null},"text":{"field":"t","type":"nominal"}}}]},
{"width":778,"height":166,"resolve":{"axis":{"x":"independent","y":"independent"}},"layer":[
{"data":{"name":"ss"},"transform":[{"fold":["10","25","37","50","65","85","100","125","150","170","185","200","215","230"],"as":["k","g"]}],"mark":{"type":"area","orient":"vertical"},"encoding":{"x":{"field":"d","type":"quantitative","scale":{"domain":[0,2602],"nice":false,"zero":false},"axis":{"orient":"bottom","values":[0,500,1000,1500,2000,2500],"format":"d","title":"Distance [km]","tickSize":0,"labelPadding":5,"titlePadding":5}},"y":{"field":"g","type":"quantitative","scale":{"domain":[28,24],"nice":false,"zero":false},"axis":{"orient":"left","values":[24,25,26,27,28],"format":"d","title":"γ [kg m⁻³]","tickSize":-5,"labelPadding":9,"titlePadding":3}},"y2":{"datum":28},"color":{"field":"k","type":"quantitative","scale":{"domain":[0,20,30,50,70,85,100,120,135,148,160,172,185,198,220,235,250],"range":["#3a2150","#45257a","#3f3594","#1f66ae","#06aee6","#45b8b0","#38ae84","#0fa84c","#8cc531","#f5e40d","#f7a818","#f2641f","#ec2b2b","#e5184f","#9d1b5e","#63204f","#3c1f38"]},"legend":null},"detail":{"field":"k"}}},
{"data":{"name":"ss"},"transform":[{"fold":["25","50","100","150","200","230"],"as":["k","g"]}],"mark":{"type":"line","color":"black","strokeWidth":1},"encoding":{"x":{"field":"d","type":"quantitative","axis":{"orient":"top","values":[0,59,123,193,259,329,405,480,564,653,731,815,910,1049,1208,1306,1423,1536,1642,1756,1859,1963,2067,2172,2276,2327,2383,2427,2487,2545,2598],"labelExpr":"stS[datum.value]","labelAngle":-90,"labelAlign":"left","labelBaseline":"middle","tickSize":3,"tickColor":"#333","domainColor":"#000","domainWidth":1.5,"labelPadding":2,"title":null}},"y":{"field":"g","type":"quantitative","axis":{"orient":"right","values":[25,26,27],"labels":false,"tickSize":-6,"title":null}},"detail":{"field":"k"}}},
{"data":{"name":"L"},"transform":[{"filter":"datum.p=='ss'"}],"mark":{"type":"line","color":"black","strokeWidth":1},"encoding":{"x":{"field":"d","type":"quantitative","axis":null},"y":{"field":"y","type":"quantitative","axis":null},"detail":{"field":"c"},"order":{"field":"o"}}},
{"data":{"name":"ws"},"mark":{"type":"line","color":"white","strokeWidth":1.6},"encoding":{"x":{"field":"d","type":"quantitative","axis":{"orient":"top","values":[500,1000,1500,2000,2500],"labels":false,"domain":false,"tickSize":-8,"title":null}},"y":{"field":"y","type":"quantitative","axis":null},"detail":{"field":"c"}}},
{"data":{"values":[{"d":1205},{"d":1759}]},"mark":{"type":"rule","color":"#777","strokeWidth":2.8,"strokeDash":[10,7]},"encoding":{"x":{"field":"d","type":"quantitative","axis":null},"y":{"datum":24,"type":"quantitative","axis":null},"y2":{"datum":28}}},
{"data":{"name":"T"},"transform":[{"filter":"datum.p=='ss'"}],"mark":{"type":"text","font":"Liberation Sans","fontWeight":"bold","fontSize":9,"color":"#111"},"encoding":{"x":{"field":"d","type":"quantitative","axis":null},"y":{"field":"y","type":"quantitative","axis":null},"text":{"field":"t","type":"nominal"}}},
{"data":{"name":"wls"},"mark":{"type":"text","font":"Liberation Sans","fontWeight":"bold","fontSize":10,"color":"white"},"encoding":{"x":{"field":"d","type":"quantitative","axis":null},"y":{"field":"y","type":"quantitative","axis":null},"text":{"field":"t","type":"nominal"}}},
{"data":{"values":[{"d":249,"y":24.79,"t":"SPRING"}]},"mark":{"type":"text","font":"Liberation Sans","fontWeight":"bold","fontSize":11,"color":"#111"},"encoding":{"x":{"field":"d","type":"quantitative","axis":null},"y":{"field":"y","type":"quantitative","axis":null},"text":{"field":"t","type":"nominal"}}}]}]},
{"width":19,"height":346,"data":{"values":[{"a":0,"b":25}]},"mark":{"type":"rect","fill":{"gradient":"linear","x1":0,"y1":1,"x2":0,"y2":0,"stops":[{"offset":0,"color":"#3a2150"},{"offset":0.08,"color":"#45257a"},{"offset":0.12,"color":"#3f3594"},{"offset":0.2,"color":"#1f66ae"},{"offset":0.28,"color":"#06aee6"},{"offset":0.34,"color":"#45b8b0"},{"offset":0.4,"color":"#38ae84"},{"offset":0.48,"color":"#0fa84c"},{"offset":0.54,"color":"#8cc531"},{"offset":0.59,"color":"#f5e40d"},{"offset":0.64,"color":"#f7a818"},{"offset":0.7,"color":"#f2641f"},{"offset":0.76,"color":"#ec2b2b"},{"offset":0.8,"color":"#e5184f"},{"offset":0.88,"color":"#9d1b5e"},{"offset":0.94,"color":"#63204f"},{"offset":1,"color":"#3c1f38"}]}},"encoding":{"y":{"field":"a","type":"quantitative","scale":{"domain":[0,25.12],"nice":false,"zero":false},"axis":{"orient":"right","values":[0,5,10,15,20,25],"title":"SiO₂ [µmol kg⁻¹]","titleAngle":-90,"tickSize":-4,"labelPadding":9,"titlePadding":21,"domain":false}},"y2":{"field":"b"}}}]},
{"spacing":11,"resolve":{"scale":{"color":"independent"}},"hconcat":[{"bounds":"flush","spacing":38,"resolve":{"scale":{"color":"independent"}},"vconcat":[
{"width":778,"height":142,"resolve":{"axis":{"x":"independent","y":"independent"}},"layer":[
{"data":{"name":"nf"},"transform":[{"fold":["0","25","50","75","100","125","150","175","200","225","250","280","265","251","220"],"as":["k","g"]}],"mark":{"type":"area","orient":"vertical"},"encoding":{"x":{"field":"d","type":"quantitative","scale":{"domain":[0,2542],"nice":false,"zero":false},"axis":{"orient":"bottom","values":[0,500,1000,1500,2000,2500],"format":"d","title":null,"tickSize":0,"labelPadding":5}},"y":{"field":"g","type":"quantitative","scale":{"domain":[28,24],"nice":false,"zero":false},"axis":{"orient":"left","values":[24,25,26,27,28],"format":"d","title":"γ [kg m⁻³]","tickSize":-5,"labelPadding":9,"titlePadding":3}},"y2":{"datum":28},"color":{"field":"k","type":"quantitative","scale":{"domain":[0,26,39,65,91,110.5,130,156,175.5,192,208,227.5,247,260,286,305.5,325],"range":["#3a2150","#45257a","#3f3594","#1f66ae","#06aee6","#45b8b0","#38ae84","#0fa84c","#8cc531","#f5e40d","#f7a818","#f2641f","#ec2b2b","#e5184f","#9d1b5e","#63204f","#3c1f38"]},"legend":null},"detail":{"field":"k"}}},
{"data":{"name":"nf"},"transform":[{"fold":["25","50","100","150","200","250","251"],"as":["k","g"]}],"mark":{"type":"line","color":"black","strokeWidth":1},"encoding":{"x":{"field":"d","type":"quantitative","axis":{"orient":"top","values":[0,58,122,188,256,329,480,562,649,731,812,900,1047,1200,1308,1419,1532,1644,1758,1857,1960,2064,2169,2272,2329,2384,2428,2477,2540],"labelExpr":"stF[datum.value]","labelAngle":-90,"labelAlign":"left","labelBaseline":"middle","tickSize":3,"tickColor":"#333","domainColor":"#000","domainWidth":1.5,"labelPadding":2,"title":null}},"y":{"field":"g","type":"quantitative","axis":{"orient":"right","values":[25,26,27],"labels":false,"tickSize":-6,"title":null}},"detail":{"field":"k"}}},
{"data":{"name":"L"},"transform":[{"filter":"datum.p=='nf'"}],"mark":{"type":"line","color":"black","strokeWidth":1},"encoding":{"x":{"field":"d","type":"quantitative","axis":null},"y":{"field":"y","type":"quantitative","axis":null},"detail":{"field":"c"},"order":{"field":"o"}}},
{"data":{"name":"wf"},"mark":{"type":"line","color":"white","strokeWidth":1.6},"encoding":{"x":{"field":"d","type":"quantitative","axis":{"orient":"top","values":[500,1000,1500,2000,2500],"labels":false,"domain":false,"tickSize":-8,"title":null}},"y":{"field":"y","type":"quantitative","axis":null},"detail":{"field":"c"}}},
{"data":{"values":[{"d":1203},{"d":1758}]},"mark":{"type":"rule","color":"#777","strokeWidth":2.8,"strokeDash":[10,7]},"encoding":{"x":{"field":"d","type":"quantitative","axis":null},"y":{"datum":24,"type":"quantitative","axis":null},"y2":{"datum":28}}},
{"data":{"name":"T"},"transform":[{"filter":"datum.p=='nf'"}],"mark":{"type":"text","font":"Liberation Sans","fontWeight":"bold","fontSize":9,"color":"#111"},"encoding":{"x":{"field":"d","type":"quantitative","axis":null},"y":{"field":"y","type":"quantitative","axis":null},"text":{"field":"t","type":"nominal"}}},
{"data":{"name":"wlf"},"mark":{"type":"text","font":"Liberation Sans","fontWeight":"bold","fontSize":10,"color":"white"},"encoding":{"x":{"field":"d","type":"quantitative","axis":null},"y":{"field":"y","type":"quantitative","axis":null},"text":{"field":"t","type":"nominal"}}},
{"data":{"values":[{"d":249,"y":24.77,"t":"FALL"}]},"mark":{"type":"text","font":"Liberation Sans","fontWeight":"bold","fontSize":11,"color":"#111"},"encoding":{"x":{"field":"d","type":"quantitative","axis":null},"y":{"field":"y","type":"quantitative","axis":null},"text":{"field":"t","type":"nominal"}}}]},
{"width":778,"height":166,"resolve":{"axis":{"x":"independent","y":"independent"}},"layer":[
{"data":{"name":"ns"},"transform":[{"fold":["0","25","50","75","100","125","150","175","200","225","250","280","265","251","220"],"as":["k","g"]}],"mark":{"type":"area","orient":"vertical"},"encoding":{"x":{"field":"d","type":"quantitative","scale":{"domain":[0,2602],"nice":false,"zero":false},"axis":{"orient":"bottom","values":[0,500,1000,1500,2000,2500],"format":"d","title":"Distance [km]","tickSize":0,"labelPadding":5,"titlePadding":5}},"y":{"field":"g","type":"quantitative","scale":{"domain":[28,24],"nice":false,"zero":false},"axis":{"orient":"left","values":[24,25,26,27,28],"format":"d","title":"γ [kg m⁻³]","tickSize":-5,"labelPadding":9,"titlePadding":3}},"y2":{"datum":28},"color":{"field":"k","type":"quantitative","scale":{"domain":[0,26,39,65,91,110.5,130,156,175.5,192,208,227.5,247,260,286,305.5,325],"range":["#3a2150","#45257a","#3f3594","#1f66ae","#06aee6","#45b8b0","#38ae84","#0fa84c","#8cc531","#f5e40d","#f7a818","#f2641f","#ec2b2b","#e5184f","#9d1b5e","#63204f","#3c1f38"]},"legend":null},"detail":{"field":"k"}}},
{"data":{"name":"ns"},"transform":[{"fold":["25","50","100","150","200","250","251"],"as":["k","g"]}],"mark":{"type":"line","color":"black","strokeWidth":1},"encoding":{"x":{"field":"d","type":"quantitative","axis":{"orient":"top","values":[0,59,123,193,259,329,405,480,564,653,731,815,910,1049,1208,1306,1423,1536,1642,1756,1859,1963,2067,2172,2276,2327,2383,2427,2487,2545,2598],"labelExpr":"stS[datum.value]","labelAngle":-90,"labelAlign":"left","labelBaseline":"middle","tickSize":3,"tickColor":"#333","domainColor":"#000","domainWidth":1.5,"labelPadding":2,"title":null}},"y":{"field":"g","type":"quantitative","axis":{"orient":"right","values":[25,26,27],"labels":false,"tickSize":-6,"title":null}},"detail":{"field":"k"}}},
{"data":{"name":"L"},"transform":[{"filter":"datum.p=='ns'"}],"mark":{"type":"line","color":"black","strokeWidth":1},"encoding":{"x":{"field":"d","type":"quantitative","axis":null},"y":{"field":"y","type":"quantitative","axis":null},"detail":{"field":"c"},"order":{"field":"o"}}},
{"data":{"name":"ws"},"mark":{"type":"line","color":"white","strokeWidth":1.6},"encoding":{"x":{"field":"d","type":"quantitative","axis":{"orient":"top","values":[500,1000,1500,2000,2500],"labels":false,"domain":false,"tickSize":-8,"title":null}},"y":{"field":"y","type":"quantitative","axis":null},"detail":{"field":"c"}}},
{"data":{"values":[{"d":1205},{"d":1759}]},"mark":{"type":"rule","color":"#777","strokeWidth":2.8,"strokeDash":[10,7]},"encoding":{"x":{"field":"d","type":"quantitative","axis":null},"y":{"datum":24,"type":"quantitative","axis":null},"y2":{"datum":28}}},
{"data":{"name":"T"},"transform":[{"filter":"datum.p=='ns'"}],"mark":{"type":"text","font":"Liberation Sans","fontWeight":"bold","fontSize":9,"color":"#111"},"encoding":{"x":{"field":"d","type":"quantitative","axis":null},"y":{"field":"y","type":"quantitative","axis":null},"text":{"field":"t","type":"nominal"}}},
{"data":{"name":"wls"},"mark":{"type":"text","font":"Liberation Sans","fontWeight":"bold","fontSize":10,"color":"white"},"encoding":{"x":{"field":"d","type":"quantitative","axis":null},"y":{"field":"y","type":"quantitative","axis":null},"text":{"field":"t","type":"nominal"}}},
{"data":{"values":[{"d":249,"y":24.79,"t":"SPRING"}]},"mark":{"type":"text","font":"Liberation Sans","fontWeight":"bold","fontSize":11,"color":"#111"},"encoding":{"x":{"field":"d","type":"quantitative","axis":null},"y":{"field":"y","type":"quantitative","axis":null},"text":{"field":"t","type":"nominal"}}}]}]},
{"width":19,"height":346,"data":{"values":[{"a":0,"b":32.5}]},"mark":{"type":"rect","fill":{"gradient":"linear","x1":0,"y1":1,"x2":0,"y2":0,"stops":[{"offset":0,"color":"#3a2150"},{"offset":0.08,"color":"#45257a"},{"offset":0.12,"color":"#3f3594"},{"offset":0.2,"color":"#1f66ae"},{"offset":0.28,"color":"#06aee6"},{"offset":0.34,"color":"#45b8b0"},{"offset":0.4,"color":"#38ae84"},{"offset":0.48,"color":"#0fa84c"},{"offset":0.54,"color":"#8cc531"},{"offset":0.59,"color":"#f5e40d"},{"offset":0.64,"color":"#f7a818"},{"offset":0.7,"color":"#f2641f"},{"offset":0.76,"color":"#ec2b2b"},{"offset":0.8,"color":"#e5184f"},{"offset":0.88,"color":"#9d1b5e"},{"offset":0.94,"color":"#63204f"},{"offset":1,"color":"#3c1f38"}]}},"encoding":{"y":{"field":"a","type":"quantitative","scale":{"domain":[0,32.66],"nice":false,"zero":false},"axis":{"orient":"right","values":[0,5,10,15,20,25,30],"title":"NO₃ [µmol kg⁻¹]","titleAngle":-90,"tickSize":-4,"labelPadding":9,"titlePadding":21,"domain":false}},"y2":{"field":"b"}}}]},
{"spacing":11,"resolve":{"scale":{"color":"independent"}},"hconcat":[{"bounds":"flush","spacing":38,"resolve":{"scale":{"color":"independent"}},"vconcat":[
{"width":778,"height":142,"resolve":{"axis":{"x":"independent","y":"independent"}},"layer":[
{"data":{"name":"pf"},"transform":[{"fold":["0","25","50","62","75","88","100","115","130","150","165","178","162","152"],"as":["k","g"]}],"mark":{"type":"area","orient":"vertical"},"encoding":{"x":{"field":"d","type":"quantitative","scale":{"domain":[0,2542],"nice":false,"zero":false},"axis":{"orient":"bottom","values":[0,500,1000,1500,2000,2500],"format":"d","title":null,"tickSize":0,"labelPadding":5}},"y":{"field":"g","type":"quantitative","scale":{"domain":[28,24],"nice":false,"zero":false},"axis":{"orient":"left","values":[24,25,26,27,28],"format":"d","title":"γ [kg m⁻³]","tickSize":-5,"labelPadding":9,"titlePadding":3}},"y2":{"datum":28},"color":{"field":"k","type":"quantitative","scale":{"domain":[0,16,24,40,56,68,80,96,108,118,128,140,152,160,176,188,200],"range":["#3a2150","#45257a","#3f3594","#1f66ae","#06aee6","#45b8b0","#38ae84","#0fa84c","#8cc531","#f5e40d","#f7a818","#f2641f","#ec2b2b","#e5184f","#9d1b5e","#63204f","#3c1f38"]},"legend":null},"detail":{"field":"k"}}},
{"data":{"name":"pf"},"transform":[{"fold":["25","50","100","150"],"as":["k","g"]}],"mark":{"type":"line","color":"black","strokeWidth":1},"encoding":{"x":{"field":"d","type":"quantitative","axis":{"orient":"top","values":[0,58,122,188,256,329,480,562,649,731,812,900,1047,1200,1308,1419,1532,1644,1758,1857,1960,2064,2169,2272,2329,2384,2428,2477,2540],"labelExpr":"stF[datum.value]","labelAngle":-90,"labelAlign":"left","labelBaseline":"middle","tickSize":3,"tickColor":"#333","domainColor":"#000","domainWidth":1.5,"labelPadding":2,"title":null}},"y":{"field":"g","type":"quantitative","axis":{"orient":"right","values":[25,26,27],"labels":false,"tickSize":-6,"title":null}},"detail":{"field":"k"}}},
{"data":{"name":"L"},"transform":[{"filter":"datum.p=='pf'"}],"mark":{"type":"line","color":"black","strokeWidth":1},"encoding":{"x":{"field":"d","type":"quantitative","axis":null},"y":{"field":"y","type":"quantitative","axis":null},"detail":{"field":"c"},"order":{"field":"o"}}},
{"data":{"name":"wf"},"mark":{"type":"line","color":"white","strokeWidth":1.6},"encoding":{"x":{"field":"d","type":"quantitative","axis":{"orient":"top","values":[500,1000,1500,2000,2500],"labels":false,"domain":false,"tickSize":-8,"title":null}},"y":{"field":"y","type":"quantitative","axis":null},"detail":{"field":"c"}}},
{"data":{"values":[{"d":1203},{"d":1758}]},"mark":{"type":"rule","color":"#777","strokeWidth":2.8,"strokeDash":[10,7]},"encoding":{"x":{"field":"d","type":"quantitative","axis":null},"y":{"datum":24,"type":"quantitative","axis":null},"y2":{"datum":28}}},
{"data":{"name":"T"},"transform":[{"filter":"datum.p=='pf'"}],"mark":{"type":"text","font":"Liberation Sans","fontWeight":"bold","fontSize":9,"color":"#111"},"encoding":{"x":{"field":"d","type":"quantitative","axis":null},"y":{"field":"y","type":"quantitative","axis":null},"text":{"field":"t","type":"nominal"}}},
{"data":{"name":"wlf"},"mark":{"type":"text","font":"Liberation Sans","fontWeight":"bold","fontSize":10,"color":"white"},"encoding":{"x":{"field":"d","type":"quantitative","axis":null},"y":{"field":"y","type":"quantitative","axis":null},"text":{"field":"t","type":"nominal"}}},
{"data":{"values":[{"d":249,"y":24.77,"t":"FALL"}]},"mark":{"type":"text","font":"Liberation Sans","fontWeight":"bold","fontSize":11,"color":"#111"},"encoding":{"x":{"field":"d","type":"quantitative","axis":null},"y":{"field":"y","type":"quantitative","axis":null},"text":{"field":"t","type":"nominal"}}}]},
{"width":778,"height":166,"resolve":{"axis":{"x":"independent","y":"independent"}},"layer":[
{"data":{"name":"ps"},"transform":[{"fold":["0","25","50","62","75","88","100","115","130","150","165","178","162","152"],"as":["k","g"]}],"mark":{"type":"area","orient":"vertical"},"encoding":{"x":{"field":"d","type":"quantitative","scale":{"domain":[0,2602],"nice":false,"zero":false},"axis":{"orient":"bottom","values":[0,500,1000,1500,2000,2500],"format":"d","title":"Distance [km]","tickSize":0,"labelPadding":5,"titlePadding":5}},"y":{"field":"g","type":"quantitative","scale":{"domain":[28,24],"nice":false,"zero":false},"axis":{"orient":"left","values":[24,25,26,27,28],"format":"d","title":"γ [kg m⁻³]","tickSize":-5,"labelPadding":9,"titlePadding":3}},"y2":{"datum":28},"color":{"field":"k","type":"quantitative","scale":{"domain":[0,16,24,40,56,68,80,96,108,118,128,140,152,160,176,188,200],"range":["#3a2150","#45257a","#3f3594","#1f66ae","#06aee6","#45b8b0","#38ae84","#0fa84c","#8cc531","#f5e40d","#f7a818","#f2641f","#ec2b2b","#e5184f","#9d1b5e","#63204f","#3c1f38"]},"legend":null},"detail":{"field":"k"}}},
{"data":{"name":"ps"},"transform":[{"fold":["25","50","100","150"],"as":["k","g"]}],"mark":{"type":"line","color":"black","strokeWidth":1},"encoding":{"x":{"field":"d","type":"quantitative","axis":{"orient":"top","values":[0,59,123,193,259,329,405,480,564,653,731,815,910,1049,1208,1306,1423,1536,1642,1756,1859,1963,2067,2172,2276,2327,2383,2427,2487,2545,2598],"labelExpr":"stS[datum.value]","labelAngle":-90,"labelAlign":"left","labelBaseline":"middle","tickSize":3,"tickColor":"#333","domainColor":"#000","domainWidth":1.5,"labelPadding":2,"title":null}},"y":{"field":"g","type":"quantitative","axis":{"orient":"right","values":[25,26,27],"labels":false,"tickSize":-6,"title":null}},"detail":{"field":"k"}}},
{"data":{"name":"L"},"transform":[{"filter":"datum.p=='ps'"}],"mark":{"type":"line","color":"black","strokeWidth":1},"encoding":{"x":{"field":"d","type":"quantitative","axis":null},"y":{"field":"y","type":"quantitative","axis":null},"detail":{"field":"c"},"order":{"field":"o"}}},
{"data":{"name":"ws"},"mark":{"type":"line","color":"white","strokeWidth":1.6},"encoding":{"x":{"field":"d","type":"quantitative","axis":{"orient":"top","values":[500,1000,1500,2000,2500],"labels":false,"domain":false,"tickSize":-8,"title":null}},"y":{"field":"y","type":"quantitative","axis":null},"detail":{"field":"c"}}},
{"data":{"values":[{"d":1205},{"d":1759}]},"mark":{"type":"rule","color":"#777","strokeWidth":2.8,"strokeDash":[10,7]},"encoding":{"x":{"field":"d","type":"quantitative","axis":null},"y":{"datum":24,"type":"quantitative","axis":null},"y2":{"datum":28}}},
{"data":{"name":"T"},"transform":[{"filter":"datum.p=='ps'"}],"mark":{"type":"text","font":"Liberation Sans","fontWeight":"bold","fontSize":9,"color":"#111"},"encoding":{"x":{"field":"d","type":"quantitative","axis":null},"y":{"field":"y","type":"quantitative","axis":null},"text":{"field":"t","type":"nominal"}}},
{"data":{"name":"wls"},"mark":{"type":"text","font":"Liberation Sans","fontWeight":"bold","fontSize":10,"color":"white"},"encoding":{"x":{"field":"d","type":"quantitative","axis":null},"y":{"field":"y","type":"quantitative","axis":null},"text":{"field":"t","type":"nominal"}}},
{"data":{"values":[{"d":249,"y":24.79,"t":"SPRING"}]},"mark":{"type":"text","font":"Liberation Sans","fontWeight":"bold","fontSize":11,"color":"#111"},"encoding":{"x":{"field":"d","type":"quantitative","axis":null},"y":{"field":"y","type":"quantitative","axis":null},"text":{"field":"t","type":"nominal"}}}]}]},
{"width":19,"height":346,"data":{"values":[{"a":0,"b":2}]},"mark":{"type":"rect","fill":{"gradient":"linear","x1":0,"y1":1,"x2":0,"y2":0,"stops":[{"offset":0,"color":"#3a2150"},{"offset":0.08,"color":"#45257a"},{"offset":0.12,"color":"#3f3594"},{"offset":0.2,"color":"#1f66ae"},{"offset":0.28,"color":"#06aee6"},{"offset":0.34,"color":"#45b8b0"},{"offset":0.4,"color":"#38ae84"},{"offset":0.48,"color":"#0fa84c"},{"offset":0.54,"color":"#8cc531"},{"offset":0.59,"color":"#f5e40d"},{"offset":0.64,"color":"#f7a818"},{"offset":0.7,"color":"#f2641f"},{"offset":0.76,"color":"#ec2b2b"},{"offset":0.8,"color":"#e5184f"},{"offset":0.88,"color":"#9d1b5e"},{"offset":0.94,"color":"#63204f"},{"offset":1,"color":"#3c1f38"}]}},"encoding":{"y":{"field":"a","type":"quantitative","scale":{"domain":[0,2.01],"nice":false,"zero":false},"axis":{"orient":"right","values":[0,0.2,0.4,0.6,0.8,1,1.2,1.4,1.6,1.8,2],"labelExpr":"datum.value","title":"PO₄ [µmol kg⁻¹]","titleAngle":-90,"tickSize":-4,"labelPadding":9,"titlePadding":21,"domain":false}},"y2":{"field":"b"}}}]}
]}
